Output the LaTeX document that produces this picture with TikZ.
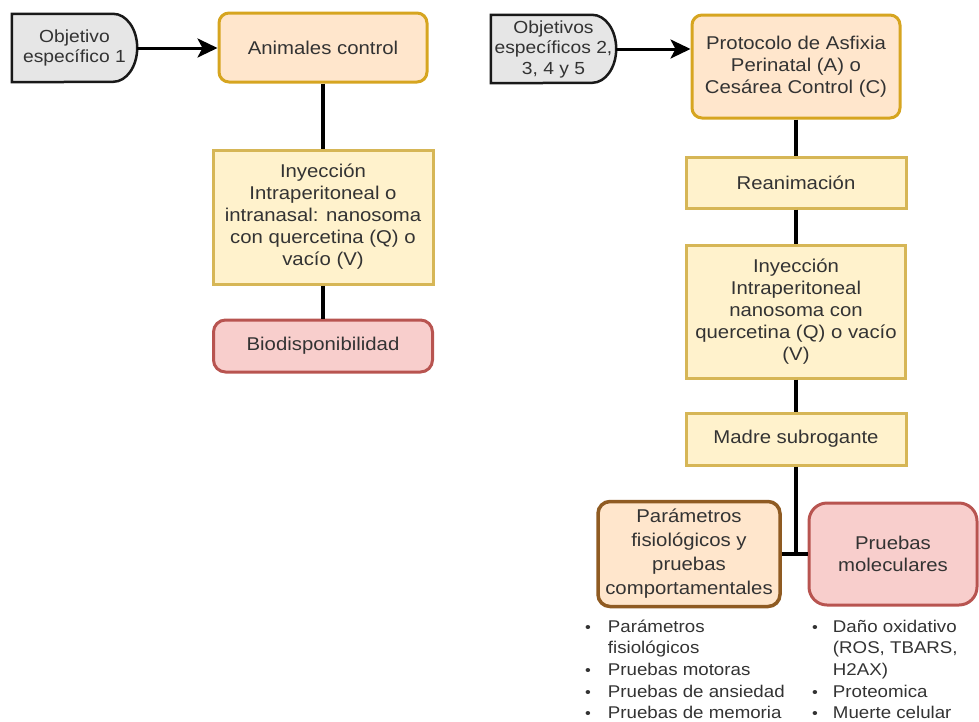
\documentclass[tikz,border=0pt]{standalone}
\usepackage{fontspec}
\setmainfont[FakeStretch=1.1]{Liberation Sans}
\usepackage{tikz}
\usetikzlibrary{arrows.meta,calc,backgrounds}

\definecolor{grisobj}{HTML}{E6E6E6}
\definecolor{naranjafill}{HTML}{FFE6CC}
\definecolor{oro}{HTML}{D6A520}
\definecolor{amarillofill}{HTML}{FFF2CC}
\definecolor{amarilloline}{HTML}{D6B656}
\definecolor{cafe}{HTML}{8F5B22}
\definecolor{rojofill}{HTML}{F8CECC}
\definecolor{rojoline}{HTML}{B85450}
\definecolor{texto}{HTML}{333333}

\tikzset{
  txt/.style={text=texto, font=\fontsize{18.5}{22}\selectfont, align=center, inner sep=0pt},
  objbox/.style={txt, font=\fontsize{17.5}{20.5}\selectfont, minimum width=125pt, minimum height=68pt},
  objline/.style={draw=black!90, line width=2.5pt, fill=grisobj},
  naranja/.style={txt, draw=oro, fill=naranjafill, line width=3pt, rounded corners=10pt},
  amarillo/.style={txt, draw=amarilloline, fill=amarillofill, line width=3pt},
  cafebox/.style={txt, font=\fontsize{18.5}{24}\selectfont, draw=cafe, fill=naranjafill, line width=3.5pt, rounded corners=12pt},
  rojo/.style={txt, draw=rojoline, fill=rojofill, line width=3pt, rounded corners=12pt},
  conn/.style={line width=4pt, black},
  flecha/.style={line width=3pt, -{Stealth[length=20pt,width=19pt,inset=5pt]}},
  lista/.style={text=texto, font=\fontsize{17}{21.7}\selectfont, inner sep=0pt, anchor=base west},
}
\newcommand{\punto}{{\fontsize{15}{15}\selectfont\textbullet}}

\begin{document}
\begin{tikzpicture}[x=1pt,y=-1pt]
\useasboundingbox (0,0) rectangle (979,721);

% rama izquierda
\node[objbox] (obj1) at (74.5,48) {Objetivo\\específico 1};
\node[naranja, minimum width=208pt, minimum height=69pt] (anim) at (323,47.5) {Animales control};
\node[amarillo, minimum width=220pt, minimum height=134pt] (iny1) at (323,217) {Inyección\\Intraperitoneal o\\intranasal: nanosoma\\con quercetina (Q) o\\vacío (V)};
\node[rojo, minimum width=219pt, minimum height=52pt] (bio) at (323,346) {Biodisponibilidad};

% rama derecha
\node[objbox] (obj2) at (553.5,49) {Objetivos\\específicos 2,\\3, 4 y 5};
\node[naranja, minimum width=208pt, minimum height=103pt] (prot) at (796,66.5) {Protocolo de Asfixia\\Perinatal (A) o\\Cesárea Control (C)};
\node[amarillo, minimum width=220pt, minimum height=51pt] (rean) at (796,182.5) {Reanimación};
\node[amarillo, minimum width=219pt, minimum height=133pt] (iny2) at (796,311.5) {Inyección\\Intraperitoneal\\nanosoma con\\quercetina (Q) o vacío\\(V)};
\node[amarillo, minimum width=220pt, minimum height=52pt] (madre) at (796,439) {Madre subrogante};
\node[cafebox, minimum width=182pt, minimum height=105pt] (par) at (689,554) {Parámetros\\fisiológicos y\\pruebas\\comportamentales};
\node[rojo, rounded corners=18pt, minimum width=168pt, minimum height=102pt] (prue) at (893,554) {Pruebas\\moleculares};
\coordinate (union) at (796,554);

% formas de los objetivos
\begin{scope}[on background layer]
  \draw[objline] (obj1.north west) -- ([xshift=-24pt]obj1.north east)
    arc[start angle=90, end angle=-90, x radius=24pt, y radius=34pt] -- (obj1.south west) -- cycle;
  \draw[objline] (obj2.north west) -- ([xshift=-24pt]obj2.north east)
    arc[start angle=90, end angle=-90, x radius=24pt, y radius=34pt] -- (obj2.south west) -- cycle;
\end{scope}

% conexiones
\draw[flecha] (obj1.east) -- (obj1.east -| anim.west);
\draw[flecha] (obj2.east) -- (obj2.east -| prot.west);
\draw[conn] (anim) -- (iny1);
\draw[conn] (iny1) -- (bio);
\draw[conn] (prot) -- (rean);
\draw[conn] (rean) -- (iny2);
\draw[conn] (iny2) -- (madre);
\draw[conn] (madre) -- (union);
\draw[conn] (par) -- (prue);

% listas
\node[lista] (lista1) at (585,632) {\begin{tabular}[t]{@{}l@{\hspace{17pt}}l@{}}
  \punto & Parámetros\\
         & fisiológicos\\
  \punto & Pruebas motoras\\
  \punto & Pruebas de ansiedad\\
  \punto & Pruebas de memoria
\end{tabular}};
\node[lista] (lista2) at (812,632) {\begin{tabular}[t]{@{}l@{\hspace{15pt}}l@{}}
  \punto & Daño oxidativo\\
         & (ROS, TBARS,\\
         & H2AX)\\
  \punto & Proteomica\\
  \punto & Muerte celular
\end{tabular}};
\end{tikzpicture}
\end{document}
